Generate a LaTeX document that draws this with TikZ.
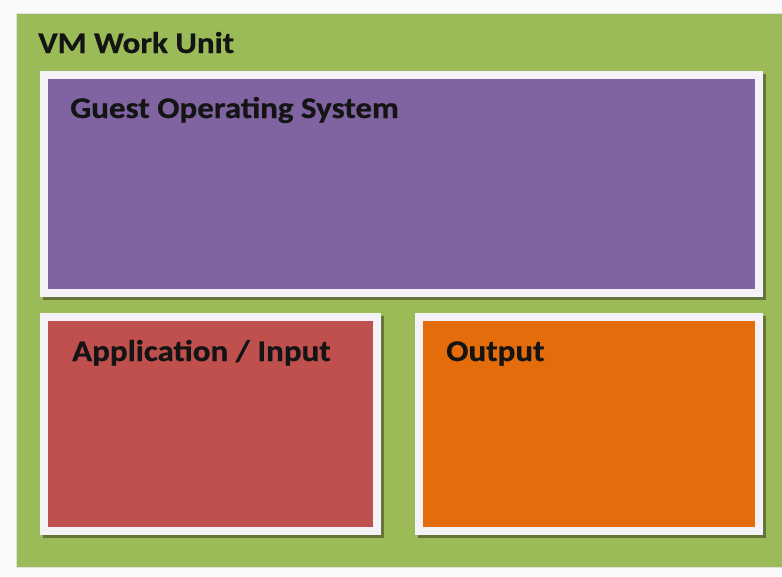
\documentclass[tikz,border=0pt]{standalone}
\usepackage{fontspec}
\setmainfont{Carlito}
\newfontfamily\capfont[FakeStretch=1.1, FakeBold=0.6]{Carlito Bold}
\usetikzlibrary{shadows}
\definecolor{pagebg}{HTML}{FAFAFA}
\definecolor{unitgreen}{HTML}{9BBB59}
\definecolor{ospurple}{HTML}{8064A2}
\definecolor{appred}{HTML}{C0504D}
\definecolor{outorange}{HTML}{E46C0A}
\definecolor{framewhite}{HTML}{F4F2F6}
\definecolor{shadowolive}{HTML}{66753A}
\tikzset{
  panel/.style={draw=framewhite, line width=8pt, anchor=north west, inner sep=0pt, outer sep=0pt,
    drop shadow={shadow xshift=3pt, shadow yshift=-3pt, fill=shadowolive,
      draw=shadowolive, line width=8pt, opacity=1}},
  caption/.style={anchor=base west, inner sep=0pt, font=\capfont\fontsize{30}{34}\selectfont, text=black!92}
}
\begin{document}
\begin{tikzpicture}[x=1pt,y=-1pt]
  % page background fixes the bounding box
  \fill[pagebg] (0,0) rectangle (782,576);
  \useasboundingbox (0,0) rectangle (782,576);
  % outer work unit
  \node[fill=unitgreen, draw=black!12, line width=0.6pt, anchor=north west, inner sep=0pt, outer sep=0pt,
        minimum width=766pt, minimum height=554pt] (unit) at (16,13) {};
  \node[caption] (unitlabel) at (38,53) {VM Work Unit};
  % guest OS
  \node[panel, fill=ospurple, minimum width=715pt, minimum height=218pt] (guest) at (44,75) {};
  \node[caption] (guestlabel) at (70,118) {Guest Operating System};
  % application / input
  \node[panel, fill=appred, minimum width=333pt, minimum height=214pt] (app) at (44,317) {};
  \node[caption] (applabel) at (72,361) {Application / Input};
  % output
  \node[panel, fill=outorange, minimum width=340pt, minimum height=214pt] (out) at (419,317) {};
  \node[caption] (outlabel) at (446,361) {Output};
\end{tikzpicture}
\end{document}
